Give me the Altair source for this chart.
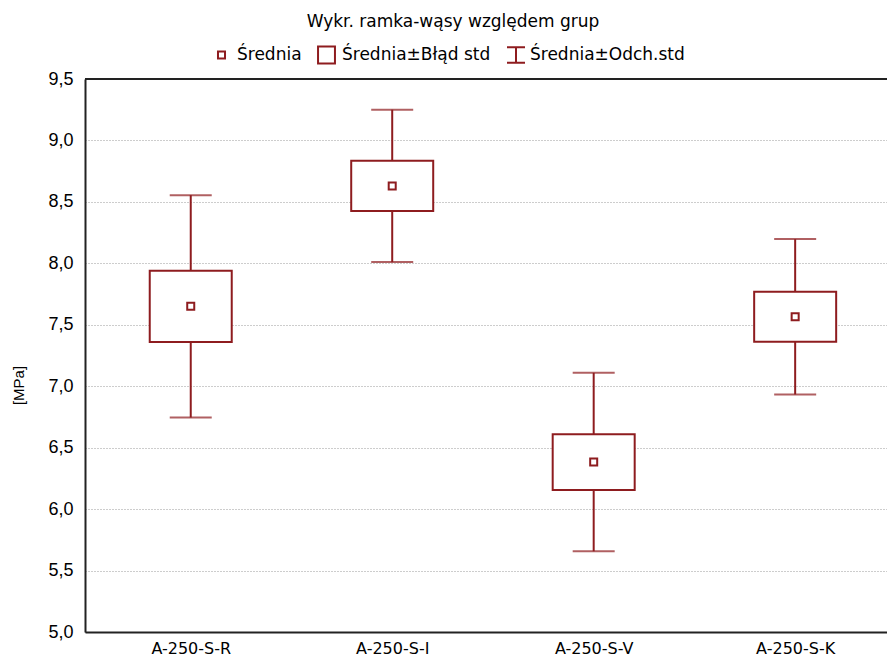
import json

import altair as alt
import pandas as pd

# Group statistics (MPa)
groups = ["A-250-S-R", "A-250-S-I", "A-250-S-V", "A-250-S-K"]
means = [7.65, 8.63, 6.383, 7.565]
std_errors = [0.29, 0.205, 0.227, 0.203]
std_devs = [0.905, 0.62, 0.726, 0.632]

legend_items = ["Średnia", "Średnia±Błąd std", "Średnia±Odch.std"]
y_ticks = [5.0, 5.5, 6.0, 6.5, 7.0, 7.5, 8.0, 8.5, 9.0, 9.5]

RED = "#8E1C1F"
FONT = "Liberation Sans"
TEXT_FONT = "DejaVu Sans"

# Symbol outlines (unit box scaled by the symbol size)
MEAN_PATH = "M-0.39,-0.39H0.39V0.39H-0.39Z"
BOX_PATH = "M-0.94,-0.94H0.94V0.94H-0.94Z"
WHISKER_PATH = "M-1,-0.85H1M0,-0.85V0.85M-1,0.85H1"
SYMBOL_SIZE = 324

df = pd.DataFrame(
    {
        "group": groups,
        "pos": list(range(1, len(groups) + 1)),
        "mean": means,
        "se": std_errors,
        "sd": std_devs,
    }
)
df["se_lo"] = df["mean"] - df["se"]
df["se_hi"] = df["mean"] + df["se"]
df["sd_lo"] = df["mean"] - df["sd"]
df["sd_hi"] = df["mean"] + df["sd"]

label_expr = "%s[datum.value - 1]" % json.dumps(groups, ensure_ascii=False)

x_enc = alt.X(
    "pos:Q",
    scale=alt.Scale(domain=[0.5, 4.431], nice=False, zero=False),
    axis=alt.Axis(
        values=[1, 2, 3, 4],
        labelExpr=label_expr,
        title=None,
        grid=False,
        ticks=False,
        labelPadding=8,
        labelFontSize=16,
        labelFont=TEXT_FONT,
        labelColor="#000000",
        domainColor="#222222",
        domainWidth=2,
    ),
)

y_scale = alt.Scale(domain=[5.0, 9.5], nice=False, zero=False)
y_axis = alt.Axis(
    values=y_ticks,
    format=".1f",
    labelExpr="replace(datum.label, '.', ',')",
    title="[MPa]",
    titleFont=FONT,
    titleFontSize=15,
    titleFontWeight="normal",
    titleColor="#000000",
    titleX=-67,
    titleY=306,
    titleAlign="center",
    titleBaseline="middle",
    titleAngle=270,
    grid=True,
    gridDash=[1, 2],
    gridColor="#9a9a9a",
    gridWidth=1,
    ticks=False,
    labelPadding=12,
    labelFontSize=18,
    labelFont=FONT,
    labelColor="#000000",
    domainColor="#222222",
    domainWidth=2,
)

base = alt.Chart(df)

# Top frame line of the plot area
frame_top = base.mark_rule(color="#222222", strokeWidth=2).encode(
    y=alt.datum(9.5, scale=y_scale),
    x=alt.value(0),
    x2=alt.value(802),
)

whiskers = base.mark_rule(color=RED, strokeWidth=2).encode(
    x=x_enc,
    y=alt.Y("sd_lo:Q", scale=y_scale, axis=y_axis),
    y2="sd_hi:Q",
)

caps_hi = base.mark_tick(color=RED, orient="horizontal", size=42, thickness=2).encode(
    x=x_enc, y=alt.Y("sd_hi:Q", scale=y_scale)
)
caps_lo = base.mark_tick(color=RED, orient="horizontal", size=42, thickness=2).encode(
    x=x_enc, y=alt.Y("sd_lo:Q", scale=y_scale)
)

boxes = base.mark_bar(
    orient="vertical", size=82, fill="white", stroke=RED, strokeWidth=2
).encode(
    x=x_enc,
    y=alt.Y("se_lo:Q", scale=y_scale),
    y2="se_hi:Q",
)

mean_points = base.mark_point(
    shape=MEAN_PATH, filled=True, fill="white", stroke=RED, strokeWidth=2,
    size=SYMBOL_SIZE, opacity=1,
).encode(
    x=x_enc,
    y=alt.Y("mean:Q", scale=y_scale),
)


# Legend row above the plot: one symbol and one label per entry
def legend_entry(item, path, symbol_x, label_x, row_y=-24):
    entry = alt.Chart(pd.DataFrame({"item": [item]}))
    symbol = entry.mark_point(
        shape=path, filled=True, fill="white", stroke=RED, strokeWidth=2,
        size=SYMBOL_SIZE, opacity=1,
    ).encode(x=alt.value(symbol_x), y=alt.value(row_y))
    label = entry.mark_text(
        align="left", baseline="middle", font=TEXT_FONT, fontSize=17, color="#000000"
    ).encode(x=alt.value(label_x), y=alt.value(row_y), text="item:N")
    return symbol + label


legend = (
    legend_entry(legend_items[0], MEAN_PATH, 136.5, 152)
    + legend_entry(legend_items[1], BOX_PATH, 241.5, 257)
    + legend_entry(legend_items[2], WHISKER_PATH, 431, 445)
)

chart = (
    alt.layer(frame_top, whiskers, caps_hi, caps_lo, boxes, mean_points, legend)
    .properties(
        width=802,
        height=553,
        autosize=alt.AutoSizeParams(type="none"),
        padding={"left": 85, "top": 79, "right": 0, "bottom": 26},
        title=alt.TitleParams(
            text="Wykr. ramka-wąsy względem grup",
            font=TEXT_FONT,
            fontSize=17,
            fontWeight="normal",
            color="#000000",
            anchor="middle",
            dx=-33,
            dy=-8,
        ),
    )
    .configure_view(stroke=None)
    .configure(background="white")
)

chart.save("out.html", embed_options={"renderer": "svg", "actions": False})
